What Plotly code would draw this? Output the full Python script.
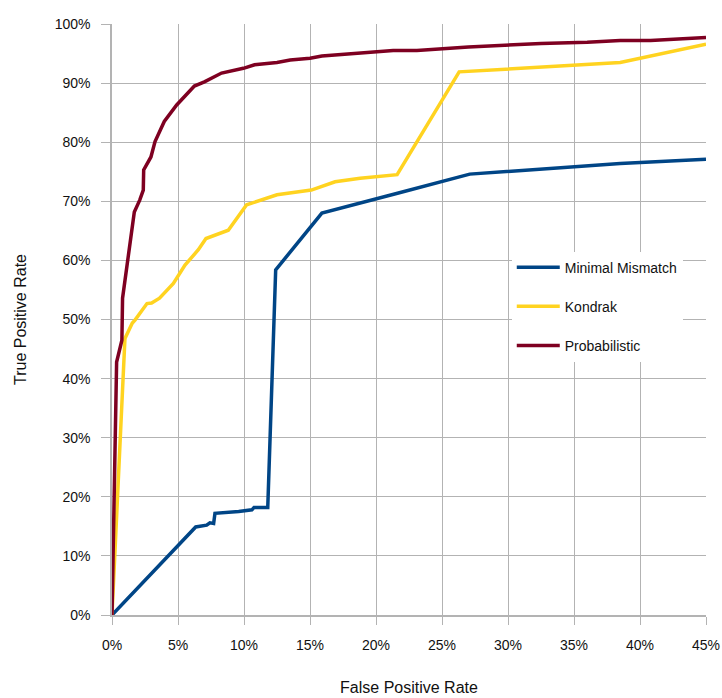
import plotly.graph_objects as go

# ROC curves: false positive rate (%) vs true positive rate (%)
mm_fpr = [0, 6.34, 7.17, 7.42, 7.7, 7.8, 9.6, 10.6, 10.76, 11.8, 12.4, 15.9, 21.7, 27.1, 38.5, 41.3, 45.0]
mm_tpr = [0, 14.9, 15.2, 15.6, 15.5, 17.2, 17.5, 17.8, 18.2, 18.2, 58.4, 68.0, 71.4, 74.6, 76.4, 76.7, 77.1]

kondrak_fpr = [0, 0.9, 0.98, 1.54, 1.74, 2.65, 3.0, 3.6, 4.65, 5.53, 6.54, 7.12, 8.81,
               10.2, 12.5, 15.1, 16.9, 18.8, 21.6, 26.3, 30.0, 35.0, 38.5, 45.0]
kondrak_tpr = [0, 44.8, 46.8, 49.4, 49.9, 52.7, 52.8, 53.6, 56.1, 59.2, 61.8, 63.7, 65.1,
               69.4, 71.1, 71.9, 73.3, 73.9, 74.5, 91.9, 92.4, 93.1, 93.5, 96.6]

prob_fpr = [0, 0.35, 0.75, 0.8, 1.69, 2.1, 2.37, 2.4, 2.95, 3.26, 3.96, 4.9, 6.24, 7.0,
            8.3, 9.07, 9.95, 10.8, 12.5, 13.5, 15.0, 15.9, 18.0, 21.3, 23.1, 27.0,
            32.5, 36.0, 38.5, 40.8, 45.0]
prob_tpr = [0, 42.8, 46.5, 53.6, 68.2, 70.2, 71.9, 75.3, 77.5, 80.1, 83.5, 86.3, 89.5, 90.2,
            91.7, 92.1, 92.5, 93.1, 93.5, 93.9, 94.2, 94.6, 94.9, 95.5, 95.5, 96.1,
            96.7, 96.9, 97.2, 97.2, 97.7]

x_ticks = [0, 5, 10, 15, 20, 25, 30, 35, 40, 45]
y_ticks = [0, 10, 20, 30, 40, 50, 60, 70, 80, 90, 100]

series = [
    ("Minimal Mismatch", mm_fpr, mm_tpr, "#004586"),
    ("Kondrak", kondrak_fpr, kondrak_tpr, "#ffd320"),
    ("Probabilistic", prob_fpr, prob_tpr, "#7e0021"),
]

FONT = "Liberation Sans, Arial, sans-serif"
GRID = "#b3b3b3"

fig = go.Figure()
for name, xs, ys, color in series:
    fig.add_trace(go.Scatter(
        x=xs, y=ys, mode="lines", name=name, legendgroup=name,
        line=dict(color=color, width=3.5),
    ))

fig.update_layout(
    width=722, height=698,
    margin=dict(l=112, r=16, t=24, b=83),
    paper_bgcolor="white", plot_bgcolor="white",
    font=dict(family=FONT, size=14, color="#111111"),
    showlegend=True,
    legend=dict(
        x=0.673, y=0.615, xanchor="left", yanchor="top",
        bgcolor="white", borderwidth=0,
        tracegroupgap=18, traceorder="grouped",
        itemwidth=43,
        font=dict(family=FONT, size=14, color="#111111"),
    ),
)

fig.update_xaxes(
    range=[0, 45], tickvals=x_ticks, ticktext=[f"{v}%" for v in x_ticks],
    automargin=False,
    showgrid=True, gridcolor=GRID, gridwidth=1,
    showline=True, linecolor=GRID, linewidth=1.5, mirror=False,
    ticks="outside", ticklen=8, tickcolor=GRID,
    ticklabelstandoff=8, zeroline=False,
    title=dict(text="False Positive Rate", font=dict(size=16), standoff=30),
)
fig.update_yaxes(
    range=[0, 100], tickvals=y_ticks, ticktext=[f"{v}%" for v in y_ticks],
    automargin=False,
    showgrid=True, gridcolor=GRID, gridwidth=1,
    showline=True, linecolor=GRID, linewidth=1.5,
    ticks="outside", ticklen=9, tickcolor=GRID,
    ticklabelstandoff=8, zeroline=False,
    title=dict(text="True Positive Rate", font=dict(size=16), standoff=24),
)

fig.write_html("out.html")
